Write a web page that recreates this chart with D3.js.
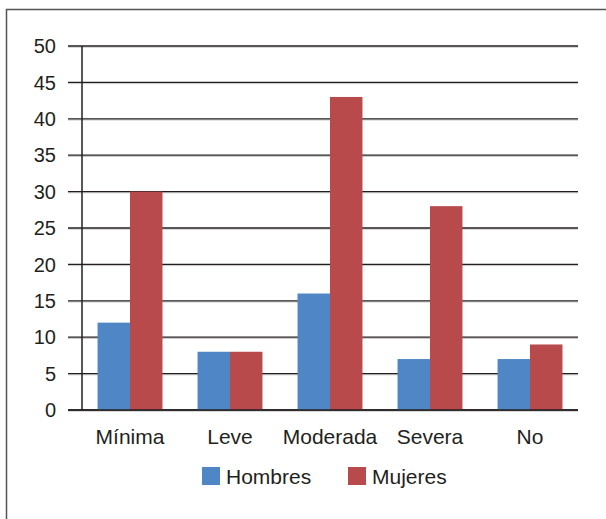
<!DOCTYPE html>
<html>
<head>
<meta charset="utf-8">
<script src="https://cdn.jsdelivr.net/npm/d3@7"></script>
<style>
  body { margin: 0; background: #fff; }
  svg { display: block; }
  text { font-family: "Liberation Sans", Arial, Helvetica, sans-serif; fill: #231f20; }
</style>
</head>
<body>
<script>
// Data
const categories = ["Mínima", "Leve", "Moderada", "Severa", "No"];
const hombres = [12, 8, 16, 7, 7];
const mujeres = [30, 8, 43, 28, 9];
const seriesNames = ["Hombres", "Mujeres"];
const yTicks = [0, 5, 10, 15, 20, 25, 30, 35, 40, 45, 50];

const W = 606, H = 519;
const colors = ["#4f87c6", "#b84a4b"];
const svg = d3.select("body").append("svg").attr("width", W).attr("height", H);

// outer frame
svg.append("rect")
  .attr("x", 6.5).attr("y", 9.5)
  .attr("width", W + 10).attr("height", H + 10)
  .attr("fill", "none").attr("stroke", "#555").attr("stroke-width", 1.5);

const plotLeft = 82, plotRight = 578, plotTop = 46, plotBottom = 410;

const x = d3.scaleBand().domain(categories).range([80, 580]).paddingInner(0).paddingOuter(0);
const xs = d3.scaleBand().domain(seriesNames).range([0, x.bandwidth()]).paddingInner(0).paddingOuter(0.54);
const y = d3.scaleLinear().domain([0, 50]).range([plotBottom, plotTop]);

// gridlines with subtle shadow
const grid = svg.append("g");
grid.selectAll("line.shadow").data(yTicks).join("line")
  .attr("x1", 68).attr("x2", plotRight)
  .attr("y1", d => y(d) + 1.2).attr("y2", d => y(d) + 1.2)
  .attr("stroke", "#c8c8c8").attr("stroke-width", 1);
grid.selectAll("line.main").data(yTicks).join("line")
  .attr("x1", 68).attr("x2", plotRight)
  .attr("y1", d => y(d)).attr("y2", d => y(d))
  .attr("stroke", "#231f20").attr("stroke-width", 1.3);

// bars
const data = categories.map((c, i) => ({ c, vals: [hombres[i], mujeres[i]] }));
const groups = svg.append("g").selectAll("g").data(data).join("g")
  .attr("transform", d => `translate(${x(d.c)},0)`);
groups.selectAll("rect").data(d => d.vals.map((v, j) => ({ v, s: seriesNames[j], j })))
  .join("rect")
  .attr("x", d => xs(d.s))
  .attr("y", d => y(d.v))
  .attr("width", xs.bandwidth())
  .attr("height", d => plotBottom - y(d.v))
  .attr("fill", d => colors[d.j]);

// y axis line
svg.append("line")
  .attr("x1", plotLeft).attr("x2", plotLeft)
  .attr("y1", plotTop).attr("y2", plotBottom)
  .attr("stroke", "#231f20").attr("stroke-width", 1.5);
// baseline
svg.append("line")
  .attr("x1", 68).attr("x2", plotRight)
  .attr("y1", plotBottom).attr("y2", plotBottom)
  .attr("stroke", "#231f20").attr("stroke-width", 1.6);

// y tick labels
svg.append("g").selectAll("text").data(yTicks).join("text")
  .attr("x", 56).attr("y", d => y(d))
  .attr("dy", "0.36em")
  .attr("text-anchor", "end")
  .attr("font-size", 20)
  .text(d => d);

// category labels
svg.append("g").selectAll("text").data(categories).join("text")
  .attr("x", d => x(d) + x.bandwidth() / 2)
  .attr("y", 444)
  .attr("text-anchor", "middle")
  .attr("font-size", 21)
  .text(d => d);

// legend
const legendX = [202, 348];
const lg = svg.append("g").selectAll("g").data(seriesNames).join("g")
  .attr("transform", (d, i) => `translate(${legendX[i]},467)`);
lg.append("rect").attr("width", 18).attr("height", 18).attr("fill", (d, i) => colors[i]);
lg.append("text").attr("x", 24).attr("y", 17).attr("font-size", 21).text(d => d);
</script>
</body>
</html>
